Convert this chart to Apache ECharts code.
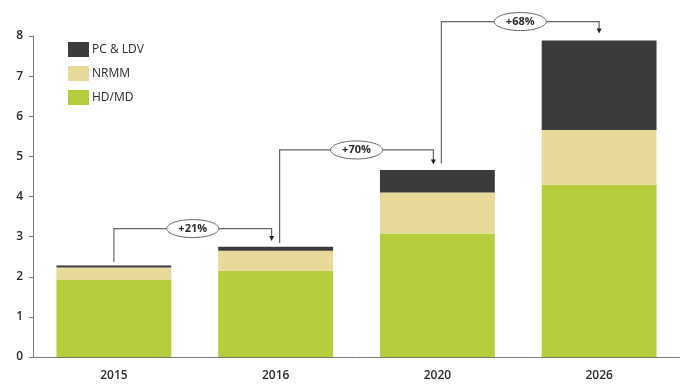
<!DOCTYPE html>
<html>
<head>
<meta charset="utf-8">
<script src="https://cdn.jsdelivr.net/npm/echarts@6/dist/echarts.min.js"></script>
<style>
  html, body { margin: 0; padding: 0; background: #fff; }
  #chart { width: 680px; height: 386px; }
</style>
</head>
<body>
<div id="chart"></div>
<script>
  // categories and stacked values
  const years = ['2015', '2016', '2020', '2026']
  const hdmd = [1.92, 2.15, 3.08, 4.29]
  const nrmm = [0.31, 0.50, 1.02, 1.37]
  const pcldv = [0.05, 0.10, 0.56, 2.23]
  const yTicks = [0, 1, 2, 3, 4, 5, 6, 7, 8]

  // growth brackets between bars
  const growthLabels = ['+21%', '+70%', '+68%']
  const bracketFrom = [0, 1, 2]
  const bracketTo = [1, 2, 3]
  const bracketStart = [2.37, 2.84, 4.82]
  const bracketTop = [3.2, 5.16, 8.36]
  const bracketEnd = [2.94, 4.85, 8.11]

  const font = '"Open Sans", "Liberation Sans", sans-serif'
  const axisGray = '#7a7a7a'

  const chart = echarts.init(document.getElementById('chart'))

  const bracketData = growthLabels.map((l, i) => [bracketFrom[i], bracketTo[i], bracketStart[i], bracketTop[i], bracketEnd[i]])

  chart.setOption({
    animation: false,
    textStyle: { fontFamily: font },
    grid: { left: 33, right: -5, top: 36, bottom: 29 },
    legend: {
      orient: 'vertical',
      left: 63,
      top: 37,
      itemWidth: 21,
      itemHeight: 15,
      itemGap: 9,
      icon: 'rect',
      textStyle: { fontSize: 12, color: '#2a2a2a', fontFamily: font, padding: [0, 0, 0, -2] },
      data: ['PC & LDV', 'NRMM', 'HD/MD']
    },
    xAxis: {
      type: 'category',
      data: years,
      axisLine: { lineStyle: { color: axisGray } },
      axisTick: { show: false },
      axisLabel: { color: '#2a2a2a', fontSize: 12, fontWeight: 600, margin: 13 }
    },
    yAxis: {
      type: 'value',
      min: 0,
      max: yTicks[yTicks.length - 1],
      interval: 1,
      axisLine: { show: true, lineStyle: { color: axisGray } },
      axisTick: { show: true, length: 4, lineStyle: { color: axisGray } },
      axisLabel: { color: '#2a2a2a', fontSize: 12, fontWeight: 600, margin: 10 },
      splitLine: { show: false }
    },
    series: [
      {
        name: 'HD/MD', type: 'bar', stack: 'total', data: hdmd,
        barCategoryGap: '29%', itemStyle: { color: '#b7cc3a' }
      },
      {
        name: 'NRMM', type: 'bar', stack: 'total', data: nrmm,
        itemStyle: { color: '#e7da98' }
      },
      {
        name: 'PC & LDV', type: 'bar', stack: 'total', data: pcldv,
        itemStyle: { color: '#3b3b3b' }
      },
      {
        type: 'custom',
        data: bracketData,
        encode: { x: [0, 1], y: [2, 3, 4] },
        silent: true,
        clip: false,
        z: 5,
        renderItem(params, api) {
          const i = params.dataIndex
          const x0 = api.value(0), x1 = api.value(1)
          const a = api.coord([x0, api.value(2)])
          const b = api.coord([x0, api.value(3)])
          const c = api.coord([x1, api.value(3)])
          const d = api.coord([x1, api.value(4)])
          const s = x0 > 0 ? 4 : 0
          const e = x1 < years.length - 1 ? -4 : 0
          a[0] += s; b[0] += s; c[0] += e; d[0] += e
          const mid = [(b[0] + c[0]) / 2, b[1]]
          return {
            type: 'group',
            children: [
              {
                type: 'polyline',
                shape: { points: [a, b, c, d] },
                style: { stroke: '#666', lineWidth: 1.2, fill: null }
              },
              {
                type: 'polygon',
                shape: { points: [[d[0] - 2.5, d[1] - 3], [d[0] + 2.5, d[1] - 3], [d[0], d[1] + 2]] },
                style: { fill: '#222' }
              },
              {
                type: 'ellipse',
                shape: { cx: mid[0], cy: mid[1], rx: 26, ry: 9 },
                style: { fill: '#fff', stroke: '#666', lineWidth: 1 }
              },
              {
                type: 'text',
                x: mid[0], y: mid[1],
                style: {
                  text: growthLabels[i],
                  fontSize: 11, fontWeight: 'bold', fill: '#2a2a2a',
                  fontFamily: font,
                  align: 'center', verticalAlign: 'middle'
                }
              }
            ]
          }
        }
      }
    ]
  })
</script>
</body>
</html>
